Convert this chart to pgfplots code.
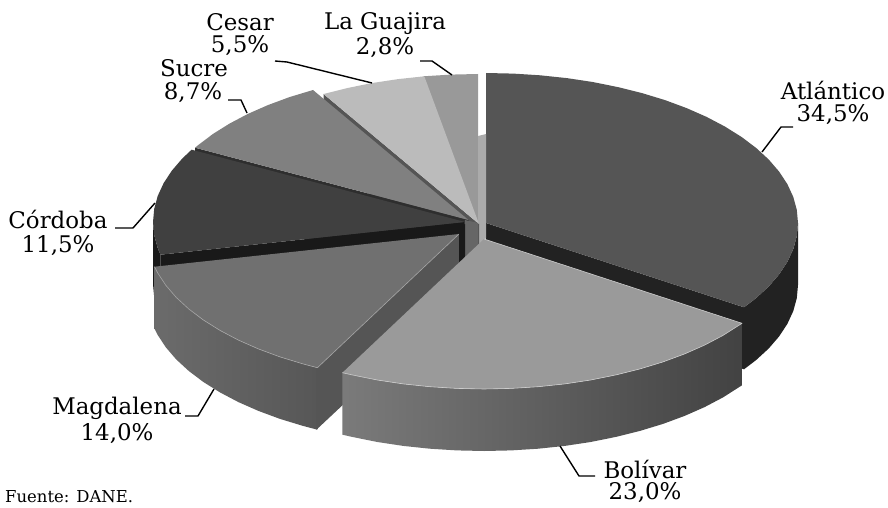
\documentclass[border=0pt]{standalone}
\usepackage{pgfplots}
\pgfplotsset{compat=1.18}
\usepackage{pgfplotstable}
\usepackage{fontspec}
\setmainfont{DejaVu Serif}
\definecolor{cAtl}{HTML}{555555}
\definecolor{cAtlW}{HTML}{222222}
\definecolor{cBol}{HTML}{9A9A9A}
\definecolor{cMag}{HTML}{707070}
\definecolor{cCor}{HTML}{404040}
\definecolor{cSuc}{HTML}{808080}
\definecolor{cCes}{HTML}{BBBBBB}
\definecolor{cGua}{HTML}{999999}
% Each slice: offsets from its apex (pixels) around the 34.5 / 23 / 14 / 11.5 / 8.7 / 5.5 / 2.8 percent angles
\pgfplotstableread{
x y
0 0
0 -150
27.2 -149.4
54.2 -147.7
80.8 -144.9
106.7 -141.0
131.9 -135.9
156 -129.9
179 -122.9
200.6 -114.9
220.6 -106.1
239 -96.4
255.6 -86
270.2 -75
282.8 -63.4
293.2 -51.3
301.4 -38.8
307.3 -26
310.8 -13.1
312 0
310.8 13.1
307.3 26
301.4 38.8
293.2 51.3
282.8 63.4
270.2 75
258 84.3
}\tabAtl
\pgfplotstableread{
x y d
312 0 0
310.8 13.1 0
307.3 26 0
301.4 38.8 0
293.2 51.3 0
282.8 63.4 0
270.2 75 0
258 84.3 0
258 84.3 62
270.2 75 62
282.8 63.4 62
293.2 51.3 62
301.4 38.8 62
307.3 26 62
310.8 13.1 62
312 0 62
}\wallAtl
\pgfplotstableread{
x y
0 0
258 84.3
239 96.4
220.6 106.1
200.6 114.9
179 122.9
156 129.9
131.9 135.9
106.7 141
80.8 144.9
54.2 147.7
27.2 149.4
0 150
-27.2 149.4
-54.2 147.7
-80.8 144.9
-106.7 141
-131.9 135.9
-141.6 133.7
}\tabBol
\pgfplotstableread{
x y d
258 84.3 0
239 96.4 0
220.6 106.1 0
200.6 114.9 0
179 122.9 0
156 129.9 0
131.9 135.9 0
106.7 141 0
80.8 144.9 0
54.2 147.7 0
27.2 149.4 0
0 150 0
-27.2 149.4 0
-54.2 147.7 0
-80.8 144.9 0
-106.7 141 0
-131.9 135.9 0
-141.6 133.7 0
-141.6 133.7 62
-131.9 135.9 62
-106.7 141 62
-80.8 144.9 62
-54.2 147.7 62
-27.2 149.4 62
0 150 62
27.2 149.4 62
54.2 147.7 62
80.8 144.9 62
106.7 141 62
131.9 135.9 62
156 129.9 62
179 122.9 62
200.6 114.9 62
220.6 106.1 62
239 96.4 62
258 84.3 62
}\wallBol
\pgfplotstableread{
x y
0 0
-141.6 133.7
-156 129.9
-179 122.9
-200.6 114.9
-220.6 106.1
-239 96.4
-255.6 86
-270.2 75
-282.8 63.4
-293.2 51.3
-301.4 38.8
-304.5 32.7
}\tabMag
\pgfplotstableread{
x y d
-141.6 133.7 0
-156 129.9 0
-179 122.9 0
-200.6 114.9 0
-220.6 106.1 0
-239 96.4 0
-255.6 86 0
-270.2 75 0
-282.8 63.4 0
-293.2 51.3 0
-301.4 38.8 0
-304.5 32.7 0
-304.5 32.7 62
-301.4 38.8 62
-293.2 51.3 62
-282.8 63.4 62
-270.2 75 62
-255.6 86 62
-239 96.4 62
-220.6 106.1 62
-200.6 114.9 62
-179 122.9 62
-156 129.9 62
-141.6 133.7 62
}\wallMag
\pgfplotstableread{
x y
0 0
-304.5 32.7
-307.3 26
-310.8 13.1
-312 0
-310.8 -13.1
-307.3 -26
-301.4 -38.8
-293.2 -51.3
-282.8 -63.4
-273.4 -72.3
}\tabCor
\pgfplotstableread{
x y d
-304.5 32.7 0
-307.3 26 0
-310.8 13.1 0
-312 0 0
-312 0 62
-310.8 13.1 62
-307.3 26 62
-304.5 32.7 62
}\wallCor
\pgfplotstableread{
x y
0 0
-273.4 -72.3
-270.2 -75
-255.6 -86
-239 -96.4
-220.6 -106.1
-200.6 -114.9
-179 -122.9
-155.5 -130
}\tabSuc
\pgfplotstableread{
x y
0 0
-155.5 -130
-131.9 -135.9
-106.7 -141
-80.8 -144.9
-54.7 -147.7
}\tabCes
\pgfplotstableread{
x y
0 0
-54.7 -147.7
-27.2 -149.4
0 -150
}\tabGua
\begin{document}
\begin{tikzpicture}
\begin{axis}[
  scale only axis, width=888bp, height=508bp,
  xmin=0, xmax=888, ymin=0, ymax=508, y dir=reverse,
  hide axis, clip=false,
  every axis plot/.append style={line join=round},
]
\path[draw=none] (axis cs:0,0) rectangle (axis cs:888,508);
% Atlantico
\addplot[draw=none, fill=cAtlW] coordinates {(744,307.3)(486,223)(486,285)(744,369.3)} -- cycle;
\addplot[draw=none, fill=cAtlW] table[x expr=\thisrow{x}+486, y expr=\thisrow{y}+223+\thisrow{d}] {\wallAtl} -- cycle;
\addplot[draw=none, fill=cAtl] table[x expr=\thisrow{x}+486, y expr=\thisrow{y}+223] {\tabAtl} -- cycle;
% La Guajira
\addplot[draw=none, fill=cGua] table[x expr=\thisrow{x}+478, y expr=\thisrow{y}+224] {\tabGua} -- cycle;
\addplot[draw=none, fill=black!33] coordinates {(478,136)(486,134)(486,238)(478,248)} -- cycle;
% Cesar
\addplot[draw=none, fill=cAtl] coordinates {(323.5,94)(479,224)(479,286)(323.5,156)} -- cycle;
\addplot[draw=none, fill=cCes] table[x expr=\thisrow{x}+479, y expr=\thisrow{y}+224] {\tabCes} -- cycle;
% Sucre
\addplot[draw=none, fill=black!82] coordinates {(195.1,147.7)(468.5,220)(468.5,282)(195.1,209.7)} -- cycle;
\addplot[draw=none, fill=cSuc] table[x expr=\thisrow{x}+468.5, y expr=\thisrow{y}+220] {\tabSuc} -- cycle;
% Cordoba
\addplot[draw=none, fill=black!90] coordinates {(160.5,254.7)(465,222)(465,284)(160.5,316.7)} -- cycle;
\addplot[draw=none, fill=black!90] table[x expr=\thisrow{x}+465, y expr=\thisrow{y}+222+\thisrow{d}] {\wallCor} -- cycle;
\addplot[draw=none, fill=cCor] table[x expr=\thisrow{x}+465, y expr=\thisrow{y}+222] {\tabCor} -- cycle;
% Magdalena
\addplot[draw=none, left color=black!58, right color=black!66] table[x expr=\thisrow{x}+459, y expr=\thisrow{y}+234+\thisrow{d}] {\wallMag} -- cycle;
\addplot[draw=none, fill=cAtl] coordinates {(316.4,367.7)(459,234)(459,296)(316.4,429.7)} -- cycle;
\addplot[draw=none, fill=cMag] table[x expr=\thisrow{x}+459, y expr=\thisrow{y}+234] {\tabMag} -- cycle;
\addplot[draw=black!35, line width=0.6pt] table[skip first n=1, x expr=\thisrow{x}+459, y expr=\thisrow{y}+234] {\tabMag};
% centre
\addplot[draw=none, fill=black!60] coordinates {(465,220)(478,223)(478,248)(460,262)} -- cycle;
\addplot[draw=none, fill=black!90] coordinates {(459,226)(465,224)(465,258)(459,264)} -- cycle;
% Bolivar
\addplot[draw=none, left color=black!52, middle color=black!68, right color=black!74] table[x expr=\thisrow{x}+484, y expr=\thisrow{y}+239+\thisrow{d}] {\wallBol} -- cycle;
\addplot[draw=none, fill=cBol] table[x expr=\thisrow{x}+484, y expr=\thisrow{y}+239] {\tabBol} -- cycle;
\addplot[draw=black!20, line width=0.6pt] table[skip first n=8, x expr=\thisrow{x}+484, y expr=\thisrow{y}+239] {\tabBol};
% leaders
\addplot[black, line width=1.4pt] coordinates {(762,152)(781,127)(793,127)};
\addplot[black, line width=1.4pt] coordinates {(560,446)(579,476)(595,476)};
\addplot[black, line width=1.4pt] coordinates {(214,389)(198,416)(185,416)};
\addplot[black, line width=1.4pt] coordinates {(155,203)(133,228)(115,228)};
\addplot[black, line width=1.4pt] coordinates {(247,113)(241,100)(228,100)};
\addplot[black, line width=1.4pt] coordinates {(372,83)(287,62)(275,61)};
\addplot[black, line width=1.4pt] coordinates {(452,75)(432,61)(420,61)};
% labels
\tikzset{lab/.style={font=\fontsize{23}{24}\selectfont, inner sep=0pt, anchor=center}}
\node[lab] at (axis cs:240,22) {Cesar};
\node[lab] at (axis cs:240,46) {5,5\%};
\node[lab] at (axis cs:385,24) {La Guajira};
\node[lab] at (axis cs:385,48) {2,8\%};
\node[lab] at (axis cs:194,68) {Sucre};
\node[lab] at (axis cs:193,93) {8,7\%};
\node[lab] at (axis cs:833,90) {Atlántico};
\node[lab] at (axis cs:833,115) {34,5\%};
\node[lab] at (axis cs:58,219) {Córdoba};
\node[lab] at (axis cs:58,246) {11,5\%};
\node[lab] at (axis cs:117,408) {Magdalena};
\node[lab] at (axis cs:117,434) {14,0\%};
\node[lab] at (axis cs:645,469) {Bolívar};
\node[lab] at (axis cs:645,493) {23,0\%};
\node[inner sep=0pt, anchor=west, font=\fontsize{16.5}{17}\selectfont] at (axis cs:5,497) {Fuente: DANE.};
\end{axis}
\end{tikzpicture}
\end{document}
